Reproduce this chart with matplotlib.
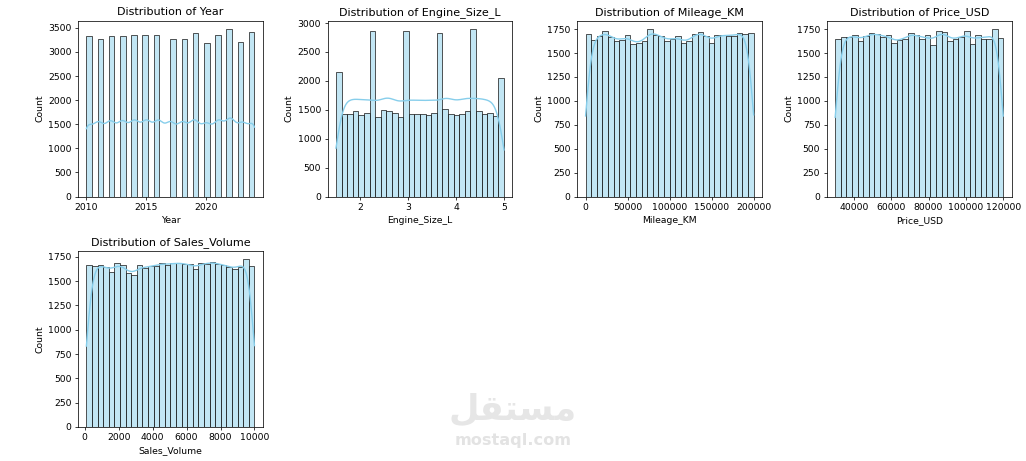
import numpy as np
import matplotlib.pyplot as plt

# Year: counts per model year
year_values = [2010, 2011, 2012, 2013, 2014, 2015, 2016, 2017, 2018, 2019, 2020, 2021, 2022, 2023, 2024]
year_counts = [3322, 3267, 3322, 3322, 3356, 3356, 3356, 3274, 3267, 3390, 3192, 3356, 3473, 3212, 3418]

# Engine size: counts per engine size (litres)
engine_values = [1.5, 1.6, 1.7, 1.8, 1.9, 2.0, 2.1, 2.2, 2.3, 2.4, 2.5, 2.6,
                 2.7, 2.8, 2.9, 3.0, 3.1, 3.2, 3.3, 3.4, 3.5, 3.6, 3.7, 3.8,
                 3.9, 4.0, 4.1, 4.2, 4.3, 4.4, 4.5, 4.6, 4.7, 4.8, 4.9, 5.0]
engine_counts = [720, 1430, 1420, 1430, 1471, 1414, 1443, 1430, 1430, 1380, 1489, 1477,
                 1448, 1373, 1420, 1440, 1425, 1425, 1425, 1414, 1448, 1400, 1430, 1511,
                 1425, 1414, 1425, 1477, 1450, 1445, 1471, 1420, 1443, 1396, 1330, 720]

# continuous columns: 30 histogram bins between range limits
mileage_range = (0, 200000)
mileage_counts = [1700, 1640, 1680, 1730, 1670, 1625, 1640, 1690, 1595, 1605,
                  1620, 1750, 1690, 1680, 1625, 1645, 1680, 1600, 1625, 1700,
                  1720, 1680, 1605, 1690, 1685, 1680, 1680, 1710, 1700, 1710]

price_range = (30000, 120000)
price_counts = [1648, 1668, 1668, 1688, 1628, 1675, 1705, 1700, 1668, 1690,
                1608, 1635, 1650, 1708, 1690, 1645, 1690, 1588, 1730, 1722,
                1628, 1650, 1662, 1730, 1598, 1690, 1650, 1650, 1750, 1660]

sales_range = (100, 10000)
sales_counts = [1665, 1655, 1669, 1642, 1591, 1689, 1662, 1581, 1564, 1662,
                1632, 1655, 1655, 1689, 1665, 1682, 1689, 1676, 1676, 1622,
                1686, 1676, 1699, 1676, 1665, 1649, 1622, 1649, 1723, 1655]

N_BINS = 30
bar_face = (135/255, 206/255, 235/255, 0.5)   # skyblue, alpha .5
kde_color = "skyblue"


def bin_centers(lo, hi, n=N_BINS):
    edges = np.linspace(lo, hi, n + 1)
    return (edges[:-1] + edges[1:]) / 2


def weighted_kde(values, counts, lo, hi, binwidth):
    values = np.asarray(values, dtype=float)
    counts = np.asarray(counts, dtype=float)
    n = counts.sum()
    mean = np.sum(values * counts) / n
    std = np.sqrt(np.sum(counts * (values - mean) ** 2) / n)
    bw = std * n ** (-1 / 5)  # scott
    grid = np.linspace(lo, hi, 200)
    dens = np.zeros_like(grid)
    for v, c in zip(values, counts):
        dens += c * np.exp(-0.5 * ((grid - v) / bw) ** 2)
    dens /= (n * bw * np.sqrt(2 * np.pi))
    return grid, dens * n * binwidth


def hist_kde(ax, values, counts, lo, hi, col):
    edges = np.linspace(lo, hi, N_BINS + 1)
    edges[1:-1] -= 1e-6  # values on a bin edge go to the upper bin
    ax.hist(values, bins=edges, weights=counts, facecolor=bar_face,
            edgecolor="#1f1f1f", linewidth=0.8)
    x, y = weighted_kde(values, counts, lo, hi, (hi - lo) / N_BINS)
    ax.plot(x, y, color=kde_color, linewidth=1.5)
    ax.set_title(f"Distribution of {col}")
    ax.set_xlabel(col)
    ax.set_ylabel("Count")


fig, axes = plt.subplots(2, 4, figsize=(15.4, 6.921))
axes = axes.flatten()

hist_kde(axes[0], year_values, year_counts, 2010, 2024, "Year")
hist_kde(axes[1], engine_values, engine_counts, 1.5, 5.0, "Engine_Size_L")
hist_kde(axes[2], bin_centers(*mileage_range), mileage_counts, *mileage_range, "Mileage_KM")
hist_kde(axes[3], bin_centers(*price_range), price_counts, *price_range, "Price_USD")
hist_kde(axes[4], bin_centers(*sales_range), sales_counts, *sales_range, "Sales_Volume")

for ax in axes[5:]:
    fig.delaxes(ax)

plt.subplots_adjust(left=0.076, right=0.986, top=0.955, bottom=0.074,
                    wspace=0.35, hspace=0.31)

# site watermark
fig.text(0.5, 0.112, "\uFEDE\uFED8\uFE98\uFEB4\uFEE3", ha="center", va="center",
         fontsize=38, fontweight="bold", color="#e6e6e6", family=["DejaVu Sans"])
fig.text(0.5, 0.045, "mostaql.com", ha="center", va="center",
         fontsize=17.5, fontweight="bold", color="#e3e3e3")

plt.savefig("out.png", dpi=1026 / 15.4)
